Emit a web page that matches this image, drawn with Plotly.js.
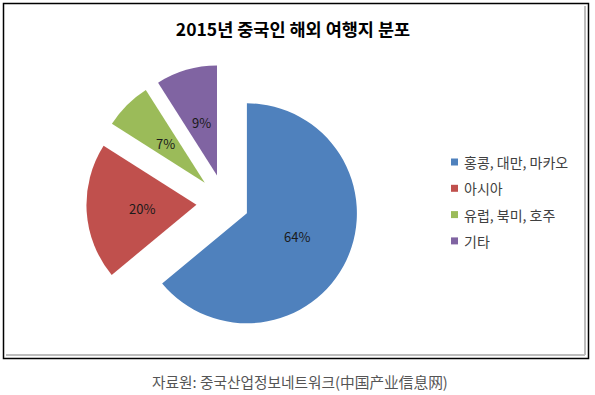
<!DOCTYPE html>
<html>
<head>
<meta charset="utf-8">
<script src="https://cdn.plot.ly/plotly-3.0.1.min.js"></script>
<style>html,body{margin:0;padding:0;background:#fff}#chart{width:595px;height:395px}</style>
</head>
<body>
<div id="chart"></div>
<script>
// Data
var labels = ['홍콩, 대만, 마카오', '아시아', '유럽, 북미, 호주', '기타'];
var values = [64, 20, 7, 9];
var colors = ['#4F81BD', '#C0504D', '#9BBB59', '#8064A2'];
var pulls = [0.22, 0.26, 0.26, 0.26];
var titleText = '2015년 중국인 해외 여행지 분포';
var sourceText = '자료원: 중국산업정보네트워크(中国产业信息网)';

var W = 595, H = 395;
function px(x) { return x / W; }
function py(y) { return 1 - y / H; }

var FONT = '"Noto Sans CJK KR", "Noto Sans", sans-serif';

// pie box (pixels): centre and radius; Plotly shrinks radius by (1 + max pull)
var PIE_CX = 225, PIE_CY = 203, PIE_R = 110;
var maxPull = Math.max.apply(null, pulls);
var half = PIE_R * (1 + maxPull);

var trace = {
  type: 'pie',
  labels: labels,
  values: values,
  sort: false,
  direction: 'clockwise',
  rotation: 0,
  pull: pulls,
  marker: { colors: colors, line: { width: 0 } },
  textinfo: 'none',
  hoverinfo: 'label+value',
  showlegend: false,
  domain: { x: [px(PIE_CX - half), px(PIE_CX + half)], y: [py(PIE_CY + half), py(PIE_CY - half)] }
};

var shapes = [
  { type: 'rect', xref: 'paper', yref: 'paper', x0: px(3.5), x1: px(588.5), y0: py(358.5), y1: py(3.5),
    line: { color: '#000', width: 1.5 } },
  { type: 'line', xref: 'paper', yref: 'paper', x0: px(585), x1: px(585), y0: py(6), y1: py(355),
    line: { color: '#bdbdbd', width: 2 } },
  { type: 'line', xref: 'paper', yref: 'paper', x0: px(6), x1: px(585), y0: py(355), y1: py(355),
    line: { color: '#bdbdbd', width: 2 } }
];

var annotations = [
  { xref: 'paper', yref: 'paper', x: px(300), y: py(381), xanchor: 'center', yanchor: 'middle',
    text: sourceText, showarrow: false, font: { family: FONT, size: 14.7, color: '#555' } }
];

// data labels: Excel-style, at half radius along each (pulled) slice bisector
var total = values.reduce(function (a, b) { return a + b; }, 0);
var cum = 0;
for (var k = 0; k < values.length; k++) {
  var mid = (cum + values[k] / 2) / total * 2 * Math.PI;
  cum += values[k];
  var dist = (pulls[k] + 0.5) * PIE_R;
  var lx = PIE_CX + dist * Math.sin(mid);
  var ly = PIE_CY - dist * Math.cos(mid);
  annotations.push({ xref: 'paper', yref: 'paper', x: px(lx), y: py(ly), xanchor: 'center', yanchor: 'middle',
    text: values[k] + '%', showarrow: false, font: { family: FONT, size: 13, color: '#1a1a1a' } });
}

// legend (small square markers, Excel-like spacing)
for (var i = 0; i < labels.length; i++) {
  var cy = 162 + i * 26.3;
  shapes.push({ type: 'rect', xref: 'paper', yref: 'paper',
    x0: px(451), x1: px(458), y0: py(cy + 3.5), y1: py(cy - 3.5),
    fillcolor: colors[i], line: { width: 0 } });
  annotations.push({ xref: 'paper', yref: 'paper', x: px(462), y: py(cy), xanchor: 'left', yanchor: 'middle',
    text: labels[i], showarrow: false, font: { family: FONT, size: 14, color: '#404040' } });
}

var layout = {
  width: W, height: H,
  margin: { l: 0, r: 0, t: 0, b: 0 },
  paper_bgcolor: '#fff',
  title: { text: titleText, x: px(293), xanchor: 'center', y: py(30), yanchor: 'middle', xref: 'paper', yref: 'paper',
    font: { family: FONT, size: 17.5, weight: 700, color: '#000' } },
  showlegend: false,
  shapes: shapes,
  annotations: annotations
};

Plotly.newPlot('chart', [trace], layout, { displayModeBar: false, staticPlot: true });
</script>
</body>
</html>
